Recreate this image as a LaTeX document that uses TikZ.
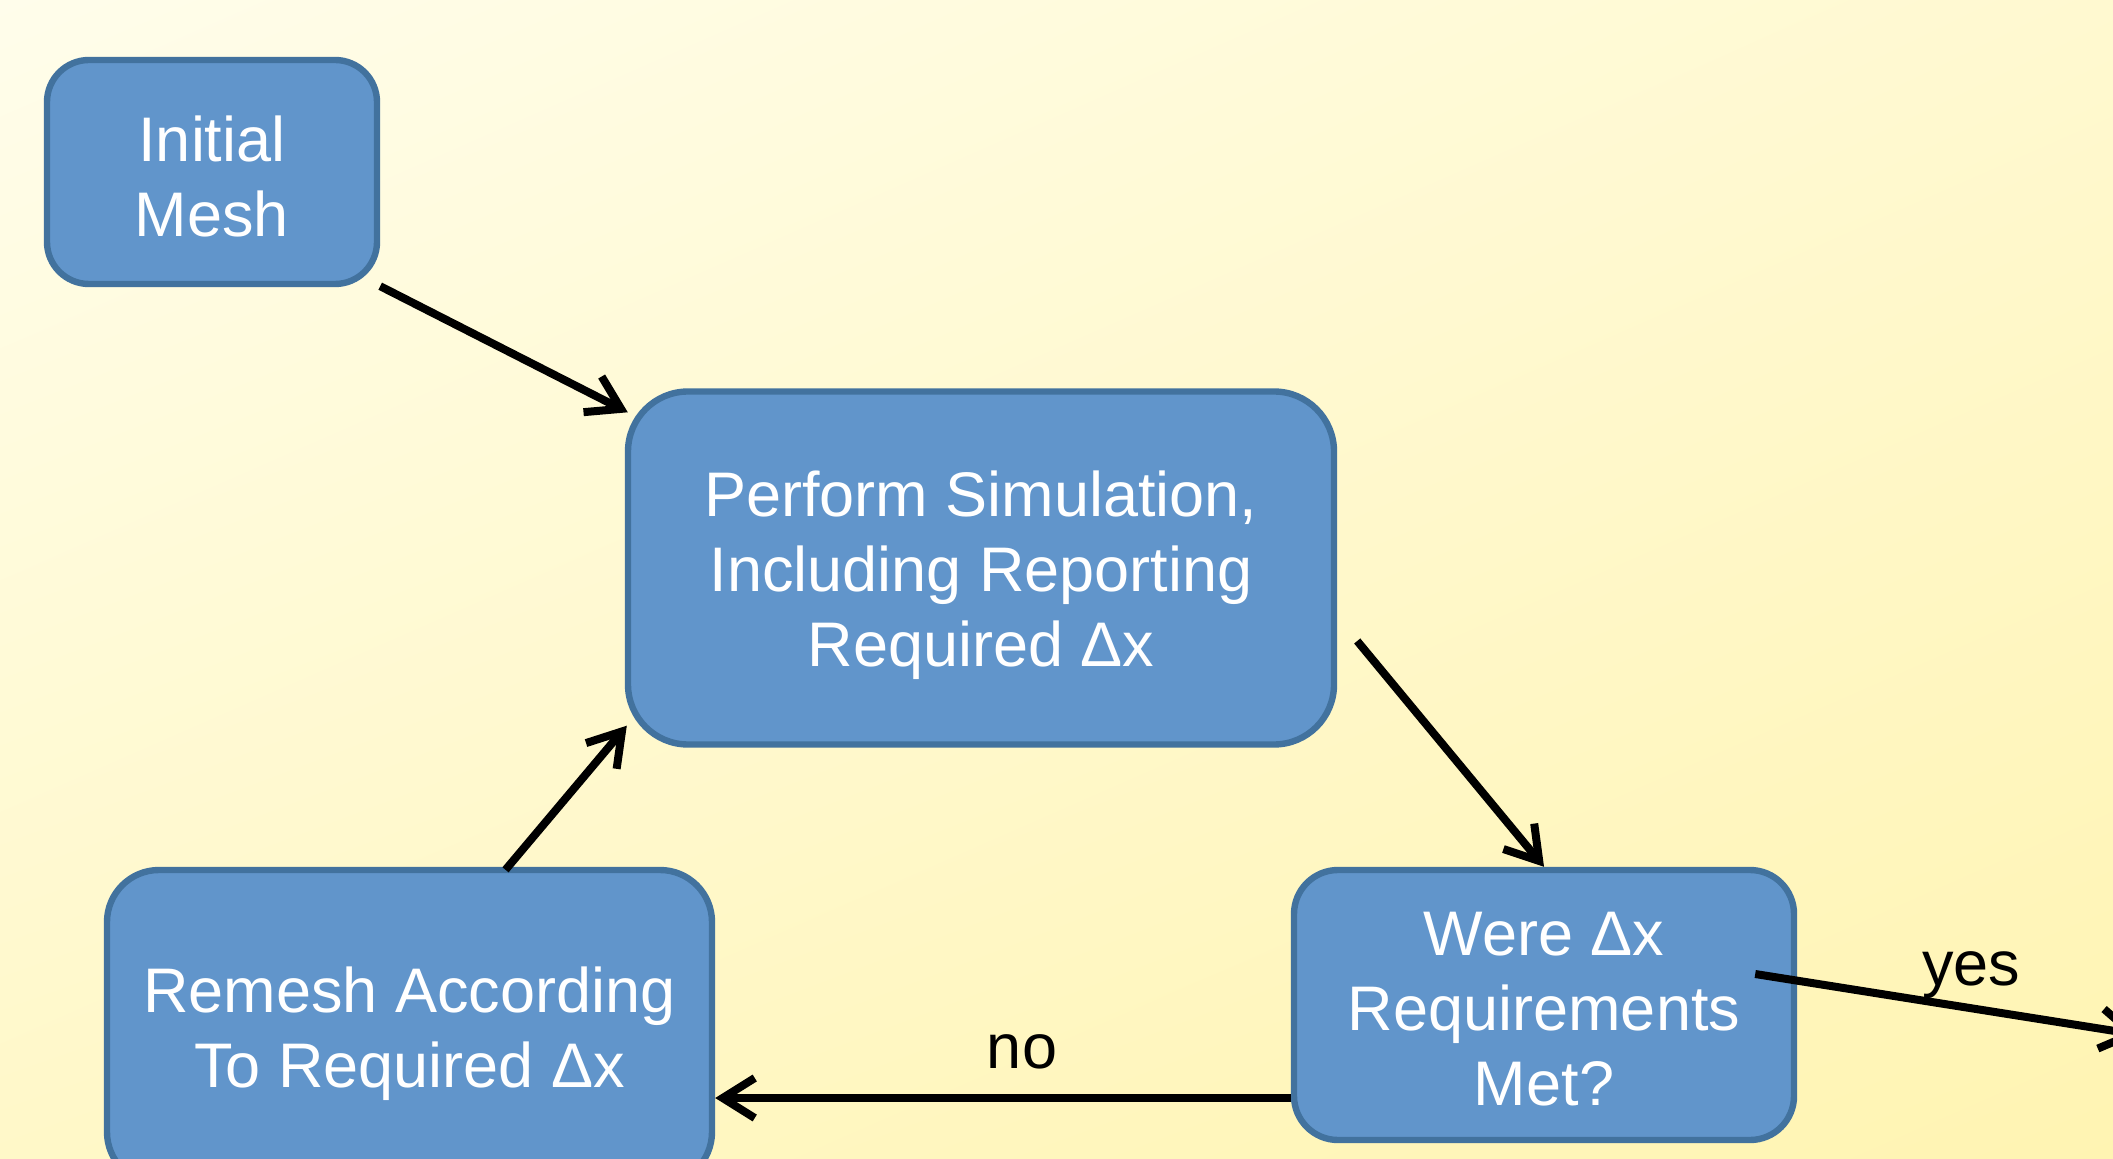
\documentclass[tikz,border=0pt]{standalone}
\usepackage{fontspec}
\setmainfont{Liberation Sans}
\usetikzlibrary{arrows.meta,calc,shadings}
\definecolor{bgA}{RGB}{255,253,235}
\definecolor{bgB}{RGB}{255,249,208}
\definecolor{bgC}{RGB}{255,248,200}
\definecolor{bgD}{RGB}{255,244,178}
\definecolor{boxfill}{RGB}{97,149,203}
\definecolor{boxline}{RGB}{66,114,158}
\newcommand\txtdown[1]{\rule{0pt}{#1}}
\tikzset{
  box/.style={draw=boxline, fill=boxfill, line width=3.2pt, text=white,
    align=center, inner sep=0pt,
    font=\fontsize{31.5}{37.5}\selectfont},
  arr/.style={draw=black, line width=4pt,
    -{Straight Barb[length=16pt,width=20pt]}},
  lbl/.style={text=black, inner sep=0pt, anchor=base,
    font=\fontsize{31.5}{37.5}\selectfont}
}
\begin{document}
\begin{tikzpicture}[x=0.5pt,y=-0.5pt]
\useasboundingbox (0,0) rectangle (2113,1159);
\clip (0,0) rectangle (2113,1159);
\shade[upper left=bgA, upper right=bgB, lower left=bgC, lower right=bgD]
  (0,0) rectangle (2113,1159);

\node[box, rounded corners=21pt, minimum width=165pt, minimum height=112pt]
  (init) at (212,172) {\txtdown{27pt}Initial\\Mesh};
\node[box, rounded corners=30pt, minimum width=353pt, minimum height=176.5pt]
  (sim) at (981,568) {\txtdown{30pt}Perform Simulation,\\Including Reporting\\Required Δx};
\node[box, rounded corners=22pt, minimum width=250pt, minimum height=135pt]
  (were) at (1544,1005) {\txtdown{25.5pt}Were Δx\\Requirements\\Met?};
\node[box, rounded corners=26pt, minimum width=302.5pt, minimum height=157pt]
  (remesh) at (409.5,1027) {\txtdown{30pt}Remesh According\\To Required Δx};

\coordinate (out) at (2140,1035);

\draw[arr] ($(init.south east)+(0,-1)$) -- ($(sim.north west)+(3,24)$);
\draw[arr] ($(sim.east)+(20,73)$) -- (were.north);
\draw[arr] ($(were.west)+(0,93)$) -- ($(remesh.east)+(0,71)$);
\draw[arr] ($(remesh.north)+(96,3)$) -- ($(sim.south west)+(2,-22)$);
\draw[arr] ($(were.east)+(-42,-31)$) -- (out);

\node[lbl] (no) at (1022,1068) {no};
\node[lbl] (yes) at (1971,985) {yes};
\end{tikzpicture}
\end{document}
